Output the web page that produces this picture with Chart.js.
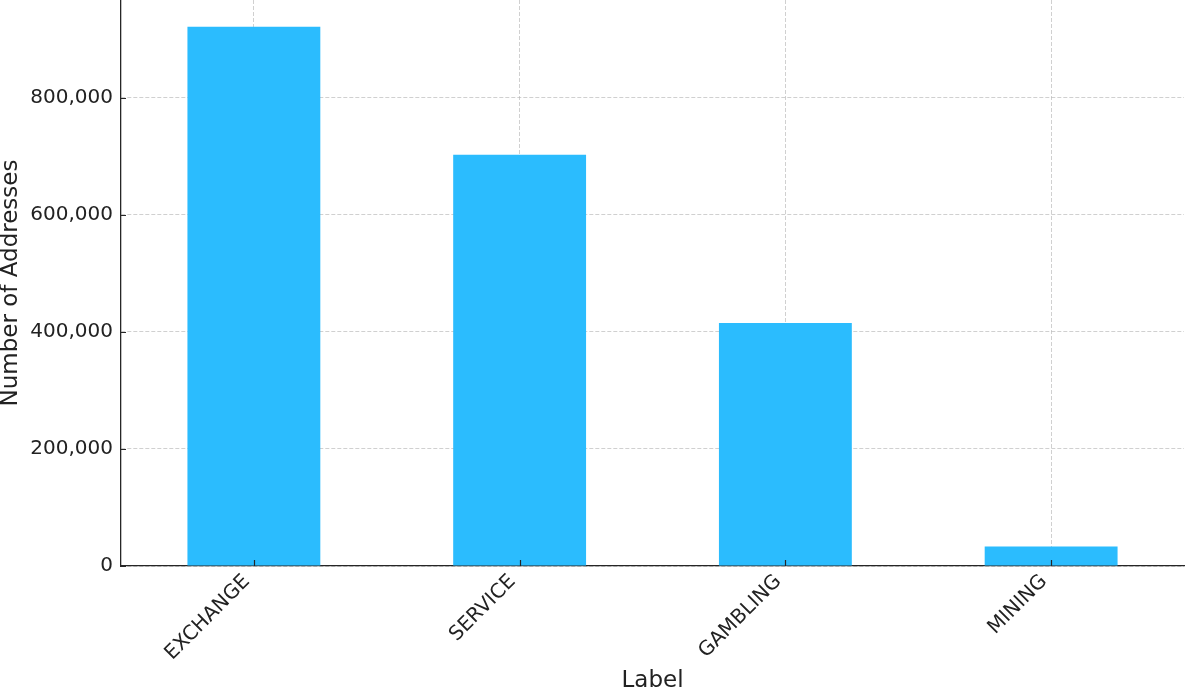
<!DOCTYPE html>
<html>
<head>
<meta charset="utf-8">
<script src="https://cdn.jsdelivr.net/npm/chart.js@4"></script>
<style>
  html, body { margin: 0; padding: 0; background: #fff; overflow: hidden; }
  #wrap { position: relative; width: 1186px; height: 693px; }
</style>
</head>
<body>
<div id="wrap"><canvas id="chart"></canvas></div>
<script>
// Datos
const categorias = ['EXCHANGE', 'SERVICE', 'GAMBLING', 'MINING'];
const numDirecciones = [921400, 702600, 415300, 33200];
const ticksY = [0, 200000, 400000, 600000, 800000];

const fmtMiles = (v) => Number(v).toLocaleString('en-US');

// Marcas cortas hacia dentro de los ejes (estilo matplotlib)
const ticksInternos = {
  id: 'ticksInternos',
  afterDraw(chart) {
    const { ctx, chartArea, scales } = chart;
    ctx.save();
    ctx.strokeStyle = '#262626';
    ctx.lineWidth = 1.2;
    ctx.beginPath();
    scales.y.ticks.forEach(t => {
      const py = Math.round(scales.y.getPixelForValue(t.value)) + 0.5;
      ctx.moveTo(chartArea.left, py);
      ctx.lineTo(chartArea.left + 5, py);
    });
    scales.x.ticks.forEach((t, i) => {
      const px = Math.round(scales.x.getPixelForTick(i)) + 0.5;
      ctx.moveTo(px, chartArea.bottom);
      ctx.lineTo(px, chartArea.bottom - 6);
    });
    ctx.stroke();
    ctx.restore();
  }
};

const colorRejilla = 'rgba(176,176,176,0.6)';

const ctx = document.getElementById('chart');

new Chart(ctx, {
  type: 'bar',
  data: {
    labels: categorias,
    datasets: [{
      label: 'Number of Addresses',
      data: numDirecciones,
      backgroundColor: '#2bbcfe',
      borderWidth: 0,
      categoryPercentage: 1,
      barPercentage: 0.5
    }]
  },
  options: {
    responsive: true,
    maintainAspectRatio: false,
    animation: false,
    layout: { padding: { top: 0, right: 2, bottom: 0, left: 0 } },
    plugins: {
      legend: { display: false },
      tooltip: { enabled: false }
    },
    scales: {
      x: {
        z: 1,
        afterFit: (scale) => {
          scale.height = 127;
          scale.paddingLeft = 0;
          scale.paddingRight = 0;
        },
        grid: {
          color: colorRejilla,
          lineWidth: 1,
          offset: false,
          drawTicks: false
        },
        border: { color: '#262626', width: 1.3, dash: [4, 2] },
        ticks: {
          color: '#222',
          font: { family: 'DejaVu Sans', size: 20 },
          maxRotation: 45,
          minRotation: 45,
          labelOffset: -7,
          padding: 4
        },
        title: {
          display: true,
          text: 'Label',
          color: '#222',
          font: { family: 'DejaVu Sans', size: 23, lineHeight: 1 },
          padding: { top: 0, bottom: 0 }
        }
      },
      y: {
        z: 1,
        min: 0,
        max: 967000,
        afterFit: (scale) => {
          scale.width = 121;
          scale.paddingTop = 0;
          scale.paddingBottom = 0;
        },
        afterBuildTicks: (scale) => { scale.ticks = ticksY.map(v => ({ value: v })); },
        grid: {
          color: colorRejilla,
          lineWidth: 1,
          drawTicks: false
        },
        border: { color: '#262626', width: 1.3, dash: [4, 2] },
        ticks: {
          color: '#222',
          font: { family: 'DejaVu Sans', size: 20 },
          padding: 8,
          callback: (v) => fmtMiles(v)
        },
        title: {
          display: true,
          text: 'Number of Addresses',
          color: '#222',
          font: { family: 'DejaVu Sans', size: 23, lineHeight: 1 },
          padding: { top: 0, bottom: 0 }
        }
      }
    }
  },
  plugins: [ticksInternos]
});
</script>
</body>
</html>
